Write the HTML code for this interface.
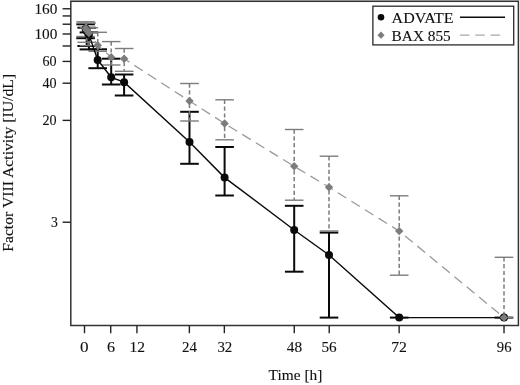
<!DOCTYPE html>
<html><head><meta charset="utf-8"><title>Factor VIII Activity</title>
<style>html,body{margin:0;padding:0;background:#fff;}body{width:520px;height:385px;position:relative;overflow:hidden;}svg text{stroke:#111;stroke-width:0.12px;}</style></head>
<body>
<svg width="520" height="385" viewBox="0 0 520 385" style="position:absolute;left:0;top:0;filter:blur(0.3px)" font-family="'Liberation Serif', serif" font-size="15" fill="#111">
<rect x="0" y="0" width="520" height="385" fill="#fff"/>
<rect x="70" y="0" width="449.3" height="0.7" fill="#cfcfcf"/>
<rect x="70.8" y="1.3" width="447.59999999999997" height="324.2" fill="none" stroke="#333" stroke-width="1.5"/>
<line x1="62.599999999999994" y1="8.77" x2="70.8" y2="8.77" stroke="#222" stroke-width="1.4"/>
<line x1="62.599999999999994" y1="15.94" x2="70.8" y2="15.94" stroke="#222" stroke-width="1.4"/>
<line x1="62.599999999999994" y1="24.21" x2="70.8" y2="24.21" stroke="#222" stroke-width="1.4"/>
<line x1="62.599999999999994" y1="34.00" x2="70.8" y2="34.00" stroke="#222" stroke-width="1.4"/>
<line x1="62.599999999999994" y1="45.98" x2="70.8" y2="45.98" stroke="#222" stroke-width="1.4"/>
<line x1="62.599999999999994" y1="61.42" x2="70.8" y2="61.42" stroke="#222" stroke-width="1.4"/>
<line x1="62.599999999999994" y1="83.19" x2="70.8" y2="83.19" stroke="#222" stroke-width="1.4"/>
<line x1="62.599999999999994" y1="120.39" x2="70.8" y2="120.39" stroke="#222" stroke-width="1.4"/>
<line x1="62.599999999999994" y1="222.23" x2="70.8" y2="222.23" stroke="#222" stroke-width="1.4"/>
<line x1="84.50" y1="325.5" x2="84.50" y2="333.2" stroke="#222" stroke-width="1.4"/>
<line x1="110.72" y1="325.5" x2="110.72" y2="333.2" stroke="#222" stroke-width="1.4"/>
<line x1="136.94" y1="325.5" x2="136.94" y2="333.2" stroke="#222" stroke-width="1.4"/>
<line x1="189.38" y1="325.5" x2="189.38" y2="333.2" stroke="#222" stroke-width="1.4"/>
<line x1="224.34" y1="325.5" x2="224.34" y2="333.2" stroke="#222" stroke-width="1.4"/>
<line x1="294.26" y1="325.5" x2="294.26" y2="333.2" stroke="#222" stroke-width="1.4"/>
<line x1="329.22" y1="325.5" x2="329.22" y2="333.2" stroke="#222" stroke-width="1.4"/>
<line x1="399.14" y1="325.5" x2="399.14" y2="333.2" stroke="#222" stroke-width="1.4"/>
<line x1="504.02" y1="325.5" x2="504.02" y2="333.2" stroke="#222" stroke-width="1.4"/>
<text transform="translate(34.38,13.6) scale(1.0190,1)">160</text>
<text transform="translate(34.38,39.0) scale(1.0190,1)">100</text>
<text transform="translate(42.50,66.2) scale(0.9400,1)">60</text>
<text transform="translate(42.50,88.0) scale(0.9400,1)">40</text>
<text transform="translate(42.50,125.3) scale(0.9400,1)">20</text>
<text transform="translate(50.90,226.8) scale(0.9143,1)">3</text>
<text transform="translate(80.00,352.3) scale(1.1429,1)">0</text>
<text transform="translate(107.00,352.3) scale(1.0714,1)">6</text>
<text transform="translate(129.46,352.3) scale(1.0357,1)">12</text>
<text transform="translate(182.10,352.3) scale(0.9933,1)">24</text>
<text transform="translate(217.40,352.3) scale(0.9933,1)">32</text>
<text transform="translate(286.80,352.3) scale(1.0200,1)">48</text>
<text transform="translate(321.40,352.3) scale(1.0133,1)">56</text>
<text transform="translate(391.15,352.3) scale(1.0500,1)">72</text>
<text transform="translate(496.80,352.3) scale(0.9800,1)">96</text>
<text transform="translate(268.60,380.4) scale(1.0269,1)">Time [h]</text>
<text transform="translate(12.8,251.80) rotate(-90) scale(1.0467,1)">Factor VIII Activity [IU/dL]</text>
<line x1="85.6" y1="24.3" x2="85.6" y2="38.2" stroke="#0a0a0a" stroke-width="2"/>
<line x1="76.3" y1="24.3" x2="94.89999999999999" y2="24.3" stroke="#0a0a0a" stroke-width="2"/>
<line x1="76.3" y1="38.2" x2="94.89999999999999" y2="38.2" stroke="#0a0a0a" stroke-width="2"/>
<line x1="86.7" y1="27.7" x2="86.7" y2="46" stroke="#0a0a0a" stroke-width="2"/>
<line x1="77.4" y1="27.7" x2="96.0" y2="27.7" stroke="#0a0a0a" stroke-width="2"/>
<line x1="77.4" y1="46" x2="96.0" y2="46" stroke="#0a0a0a" stroke-width="2"/>
<line x1="88.9" y1="32.4" x2="88.9" y2="49.4" stroke="#0a0a0a" stroke-width="2"/>
<line x1="79.60000000000001" y1="32.4" x2="98.2" y2="32.4" stroke="#0a0a0a" stroke-width="2"/>
<line x1="79.60000000000001" y1="49.4" x2="98.2" y2="49.4" stroke="#0a0a0a" stroke-width="2"/>
<line x1="97.7" y1="49.3" x2="97.7" y2="68.2" stroke="#0a0a0a" stroke-width="2"/>
<line x1="88.4" y1="49.3" x2="107.0" y2="49.3" stroke="#0a0a0a" stroke-width="2"/>
<line x1="88.4" y1="68.2" x2="107.0" y2="68.2" stroke="#0a0a0a" stroke-width="2"/>
<line x1="111.2" y1="58.7" x2="111.2" y2="84.5" stroke="#0a0a0a" stroke-width="2"/>
<line x1="101.9" y1="58.7" x2="120.5" y2="58.7" stroke="#0a0a0a" stroke-width="2"/>
<line x1="101.9" y1="84.5" x2="120.5" y2="84.5" stroke="#0a0a0a" stroke-width="2"/>
<line x1="124.1" y1="74.5" x2="124.1" y2="95.5" stroke="#0a0a0a" stroke-width="2"/>
<line x1="114.8" y1="74.5" x2="133.4" y2="74.5" stroke="#0a0a0a" stroke-width="2"/>
<line x1="114.8" y1="95.5" x2="133.4" y2="95.5" stroke="#0a0a0a" stroke-width="2"/>
<line x1="189.5" y1="111.8" x2="189.5" y2="163.8" stroke="#0a0a0a" stroke-width="2"/>
<line x1="180.2" y1="111.8" x2="198.8" y2="111.8" stroke="#0a0a0a" stroke-width="2"/>
<line x1="180.2" y1="163.8" x2="198.8" y2="163.8" stroke="#0a0a0a" stroke-width="2"/>
<line x1="224.6" y1="147" x2="224.6" y2="195.5" stroke="#0a0a0a" stroke-width="2"/>
<line x1="215.29999999999998" y1="147" x2="233.9" y2="147" stroke="#0a0a0a" stroke-width="2"/>
<line x1="215.29999999999998" y1="195.5" x2="233.9" y2="195.5" stroke="#0a0a0a" stroke-width="2"/>
<line x1="294.2" y1="205.8" x2="294.2" y2="271.7" stroke="#0a0a0a" stroke-width="2"/>
<line x1="284.9" y1="205.8" x2="303.5" y2="205.8" stroke="#0a0a0a" stroke-width="2"/>
<line x1="284.9" y1="271.7" x2="303.5" y2="271.7" stroke="#0a0a0a" stroke-width="2"/>
<line x1="329" y1="232.6" x2="329" y2="317.6" stroke="#0a0a0a" stroke-width="2"/>
<line x1="319.7" y1="232.6" x2="338.3" y2="232.6" stroke="#0a0a0a" stroke-width="2"/>
<line x1="319.7" y1="317.6" x2="338.3" y2="317.6" stroke="#0a0a0a" stroke-width="2"/>
<line x1="389.9" y1="317.6" x2="408.5" y2="317.6" stroke="#0a0a0a" stroke-width="2"/>
<line x1="494.7" y1="317.6" x2="513.3" y2="317.6" stroke="#0a0a0a" stroke-width="2"/>
<line x1="85.6" y1="21.8" x2="85.6" y2="36.5" stroke="#7c7c7c" stroke-width="1.5" stroke-dasharray="4.2 2.6"/>
<line x1="76.3" y1="21.8" x2="94.89999999999999" y2="21.8" stroke="#7c7c7c" stroke-width="1.4"/>
<line x1="76.3" y1="36.5" x2="94.89999999999999" y2="36.5" stroke="#7c7c7c" stroke-width="1.4"/>
<line x1="86.7" y1="23" x2="86.7" y2="42.3" stroke="#7c7c7c" stroke-width="1.5" stroke-dasharray="4.2 2.6"/>
<line x1="77.4" y1="23" x2="96.0" y2="23" stroke="#7c7c7c" stroke-width="1.4"/>
<line x1="77.4" y1="42.3" x2="96.0" y2="42.3" stroke="#7c7c7c" stroke-width="1.4"/>
<line x1="88.9" y1="27.7" x2="88.9" y2="45.6" stroke="#7c7c7c" stroke-width="1.5" stroke-dasharray="4.2 2.6"/>
<line x1="79.60000000000001" y1="27.7" x2="98.2" y2="27.7" stroke="#7c7c7c" stroke-width="1.4"/>
<line x1="79.60000000000001" y1="45.6" x2="98.2" y2="45.6" stroke="#7c7c7c" stroke-width="1.4"/>
<line x1="97.7" y1="32.3" x2="97.7" y2="51.3" stroke="#7c7c7c" stroke-width="1.5" stroke-dasharray="4.2 2.6"/>
<line x1="88.4" y1="32.3" x2="107.0" y2="32.3" stroke="#7c7c7c" stroke-width="1.4"/>
<line x1="88.4" y1="51.3" x2="107.0" y2="51.3" stroke="#7c7c7c" stroke-width="1.4"/>
<line x1="111.2" y1="41.6" x2="111.2" y2="65" stroke="#7c7c7c" stroke-width="1.5" stroke-dasharray="4.2 2.6"/>
<line x1="101.9" y1="41.6" x2="120.5" y2="41.6" stroke="#7c7c7c" stroke-width="1.4"/>
<line x1="101.9" y1="65" x2="120.5" y2="65" stroke="#7c7c7c" stroke-width="1.4"/>
<line x1="124.2" y1="48.5" x2="124.2" y2="71.3" stroke="#7c7c7c" stroke-width="1.5" stroke-dasharray="4.2 2.6"/>
<line x1="114.9" y1="48.5" x2="133.5" y2="48.5" stroke="#7c7c7c" stroke-width="1.4"/>
<line x1="114.9" y1="71.3" x2="133.5" y2="71.3" stroke="#7c7c7c" stroke-width="1.4"/>
<line x1="189.5" y1="83.5" x2="189.5" y2="121" stroke="#7c7c7c" stroke-width="1.5" stroke-dasharray="4.2 2.6"/>
<line x1="180.2" y1="83.5" x2="198.8" y2="83.5" stroke="#7c7c7c" stroke-width="1.4"/>
<line x1="180.2" y1="121" x2="198.8" y2="121" stroke="#7c7c7c" stroke-width="1.4"/>
<line x1="224.6" y1="99.8" x2="224.6" y2="139.8" stroke="#7c7c7c" stroke-width="1.5" stroke-dasharray="4.2 2.6"/>
<line x1="215.29999999999998" y1="99.8" x2="233.9" y2="99.8" stroke="#7c7c7c" stroke-width="1.4"/>
<line x1="215.29999999999998" y1="139.8" x2="233.9" y2="139.8" stroke="#7c7c7c" stroke-width="1.4"/>
<line x1="294.2" y1="129.5" x2="294.2" y2="200.2" stroke="#7c7c7c" stroke-width="1.5" stroke-dasharray="4.2 2.6"/>
<line x1="284.9" y1="129.5" x2="303.5" y2="129.5" stroke="#7c7c7c" stroke-width="1.4"/>
<line x1="284.9" y1="200.2" x2="303.5" y2="200.2" stroke="#7c7c7c" stroke-width="1.4"/>
<line x1="329" y1="156.2" x2="329" y2="231" stroke="#7c7c7c" stroke-width="1.5" stroke-dasharray="4.2 2.6"/>
<line x1="319.7" y1="156.2" x2="338.3" y2="156.2" stroke="#7c7c7c" stroke-width="1.4"/>
<line x1="319.7" y1="231" x2="338.3" y2="231" stroke="#7c7c7c" stroke-width="1.4"/>
<line x1="399.2" y1="195.8" x2="399.2" y2="275.2" stroke="#7c7c7c" stroke-width="1.5" stroke-dasharray="4.2 2.6"/>
<line x1="389.9" y1="195.8" x2="408.5" y2="195.8" stroke="#7c7c7c" stroke-width="1.4"/>
<line x1="389.9" y1="275.2" x2="408.5" y2="275.2" stroke="#7c7c7c" stroke-width="1.4"/>
<line x1="504" y1="257.3" x2="504" y2="317.6" stroke="#7c7c7c" stroke-width="1.5" stroke-dasharray="4.2 2.6"/>
<line x1="494.7" y1="257.3" x2="513.3" y2="257.3" stroke="#7c7c7c" stroke-width="1.4"/>
<line x1="494.7" y1="317.6" x2="513.3" y2="317.6" stroke="#7c7c7c" stroke-width="1.4"/>
<polyline points="85.6,28.5 86.7,30.2 88.9,33.0 97.7,45.3 111.2,57.3 124.2,58.8 189.5,101.0 224.6,123.5 294.2,166.3 329.0,187.2 399.2,231.1 504.0,317.6" fill="none" stroke="#9a9a9a" stroke-width="1.3" stroke-dasharray="10 6"/>
<polyline points="85.6,29.0 86.7,31.0 88.9,34.5 97.7,60.0 111.2,77.3 124.1,82.2 189.5,142.0 224.6,177.6 294.2,230.0 329.0,255.0 399.2,317.6 504.0,317.6" fill="none" stroke="#0a0a0a" stroke-width="1.4"/>
<circle cx="85.6" cy="29" r="4" fill="#0a0a0a"/>
<circle cx="86.7" cy="31" r="4" fill="#0a0a0a"/>
<circle cx="88.9" cy="34.5" r="4" fill="#0a0a0a"/>
<circle cx="97.7" cy="60" r="4" fill="#0a0a0a"/>
<circle cx="111.2" cy="77.3" r="4" fill="#0a0a0a"/>
<circle cx="124.1" cy="82.2" r="4" fill="#0a0a0a"/>
<circle cx="189.5" cy="142" r="4" fill="#0a0a0a"/>
<circle cx="224.6" cy="177.6" r="4" fill="#0a0a0a"/>
<circle cx="294.2" cy="230" r="4" fill="#0a0a0a"/>
<circle cx="329" cy="255" r="4" fill="#0a0a0a"/>
<circle cx="399.2" cy="317.6" r="4" fill="#0a0a0a"/>
<circle cx="504" cy="317.6" r="4" fill="#0a0a0a"/>
<path d="M81.39999999999999 28.5L85.6 24.3L89.8 28.5L85.6 32.7Z" fill="#7c7c7c"/>
<path d="M82.5 30.2L86.7 26.0L90.9 30.2L86.7 34.4Z" fill="#7c7c7c"/>
<path d="M84.7 33L88.9 28.8L93.10000000000001 33L88.9 37.2Z" fill="#7c7c7c"/>
<path d="M93.5 45.3L97.7 41.099999999999994L101.9 45.3L97.7 49.5Z" fill="#7c7c7c"/>
<path d="M107.0 57.3L111.2 53.099999999999994L115.4 57.3L111.2 61.5Z" fill="#7c7c7c"/>
<path d="M120.0 58.8L124.2 54.599999999999994L128.4 58.8L124.2 63.0Z" fill="#7c7c7c"/>
<path d="M185.3 101L189.5 96.8L193.7 101L189.5 105.2Z" fill="#7c7c7c"/>
<path d="M220.4 123.5L224.6 119.3L228.79999999999998 123.5L224.6 127.7Z" fill="#7c7c7c"/>
<path d="M290.0 166.3L294.2 162.10000000000002L298.4 166.3L294.2 170.5Z" fill="#7c7c7c"/>
<path d="M324.8 187.2L329 183.0L333.2 187.2L329 191.39999999999998Z" fill="#7c7c7c"/>
<path d="M395.0 231.1L399.2 226.9L403.4 231.1L399.2 235.29999999999998Z" fill="#7c7c7c"/>
<path d="M499.8 317.6L504 313.40000000000003L508.2 317.6L504 321.8Z" fill="#7c7c7c"/>
<rect x="372.9" y="6.2" width="140.8" height="38.7" fill="#fff" stroke="#2a2a2a" stroke-width="1.3"/>
<circle cx="381" cy="17.3" r="3.3" fill="#0a0a0a"/>
<line x1="460" y1="17.3" x2="505" y2="17.3" stroke="#0a0a0a" stroke-width="1.4"/>
<path d="M377.4 35.2L381 31.6L384.6 35.2L381 38.800000000000004Z" fill="#7c7c7c"/>
<line x1="460" y1="35.2" x2="505" y2="35.2" stroke="#a8a8a8" stroke-width="1.2" stroke-dasharray="9.5 5.8"/>
<text transform="translate(391.60,23.0) scale(1.0672,1)">ADVATE</text>
<text transform="translate(391.60,40.6) scale(1.0224,1)">BAX 855</text>
</svg>
</body></html>
